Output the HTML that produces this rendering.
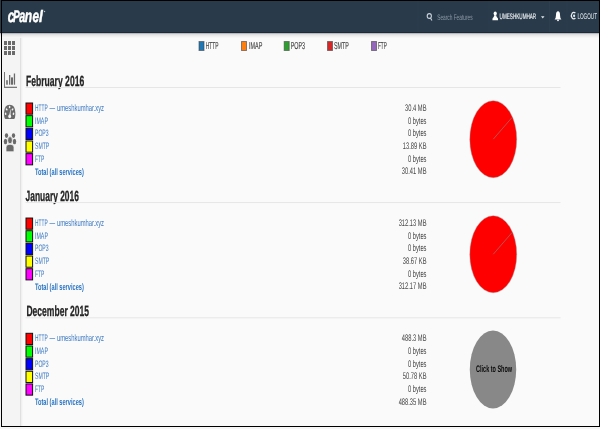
<!DOCTYPE html>
<html><head><meta charset="utf-8"><style>
html,body{margin:0;padding:0;background:#fafafa;width:600px;height:429px;overflow:hidden}
svg{display:block;font-family:"Liberation Sans", sans-serif;will-change:transform;text-rendering:geometricPrecision}
</style></head><body>
<svg width="600" height="429" viewBox="0 0 600 429">
<rect x="0" y="0" width="600" height="429" fill="#fafafa"/>
<rect x="0" y="33" width="20" height="396" fill="#f4f4f4"/>
<rect x="20" y="33" width="1" height="396" fill="#e0e0e0"/>
<rect x="21" y="33" width="1" height="396" fill="#f0f0f0"/>
<rect x="22" y="33" width="1" height="396" fill="#f6f6f6"/>
<rect x="0" y="0" width="600" height="33" fill="#293a4a"/>
<rect x="0" y="32" width="600" height="1" fill="#1d2b39"/>
<rect x="0" y="33" width="600" height="1" fill="#a9acaf" opacity="0.85"/>
<rect x="0" y="34" width="600" height="1" fill="#d9d9d9" opacity="0.85"/>
<rect x="0" y="35" width="600" height="1" fill="#e5e5e5" opacity="0.85"/>
<rect x="0" y="36" width="600" height="1" fill="#ededed" opacity="0.85"/>
<rect x="0" y="37" width="600" height="1" fill="#f4f4f4" opacity="0.85"/>
<text x="7.8" y="22.3" font-size="17.8" fill="#fff" font-weight="bold" text-anchor="start" font-style="italic" textLength="6.6" lengthAdjust="spacingAndGlyphs" stroke="#fff" stroke-width="0.5">c</text>
<text x="13.0" y="22.3" font-size="16.8" fill="#fff" font-weight="bold" text-anchor="start" font-style="italic" textLength="6.8" lengthAdjust="spacingAndGlyphs" stroke="#fff" stroke-width="0.5">P</text>
<text x="19.3" y="22.3" font-size="17.8" fill="#fff" font-weight="bold" text-anchor="start" font-style="italic" textLength="6.0" lengthAdjust="spacingAndGlyphs" stroke="#fff" stroke-width="0.5">a</text>
<text x="24.8" y="22.3" font-size="17.8" fill="#fff" font-weight="bold" text-anchor="start" font-style="italic" textLength="7.4" lengthAdjust="spacingAndGlyphs" stroke="#fff" stroke-width="0.5">n</text>
<text x="32.6" y="22.3" font-size="17.8" fill="#fff" font-weight="bold" text-anchor="start" font-style="italic" textLength="6.6" lengthAdjust="spacingAndGlyphs" stroke="#fff" stroke-width="0.5">e</text>
<text x="39.0" y="22.3" font-size="16.6" fill="#fff" font-weight="bold" text-anchor="start" font-style="italic" textLength="3.8" lengthAdjust="spacingAndGlyphs" stroke="#fff" stroke-width="0.5">l</text>
<circle cx="44.5" cy="11.6" r="0.75" fill="#b8c2cc"/>
<rect x="417.5" y="1" width="1" height="31" fill="#34475a" opacity="0.35"/>
<rect x="488.5" y="1" width="1" height="31" fill="#34475a" opacity="0.35"/>
<rect x="549" y="1" width="1" height="31" fill="#34475a" opacity="0.35"/>
<rect x="566.5" y="1" width="1" height="31" fill="#34475a" opacity="0.35"/>
<ellipse cx="429.3" cy="16" rx="2.1" ry="2.4" fill="none" stroke="#c9d1d9" stroke-width="1.1"/>
<line x1="430.5" y1="18" x2="431.9" y2="20.6" stroke="#c9d1d9" stroke-width="1.1"/>
<text x="437.2" y="19.6" font-size="8" fill="#8d99a6" font-weight="normal" text-anchor="start" font-style="normal" textLength="35.4" lengthAdjust="spacingAndGlyphs">Search Features</text>
<ellipse cx="495.2" cy="13.6" rx="1.6" ry="2" fill="#fff"/>
<path d="M494.2 15.2 L496.2 15.2 Q496.4 17.4 497.9 18.3 L498.1 20.2 L492.4 20.2 L492.6 18.3 Q494 17.4 494.2 15.2 Z" fill="#fff"/>
<text x="499.6" y="19.2" font-size="8" fill="#eef1f4" font-weight="normal" text-anchor="start" font-style="normal" textLength="36.6" lengthAdjust="spacingAndGlyphs" stroke="#eef1f4" stroke-width="0.15">UMESHKUMHAR</text>
<path d="M541 16.3 L544.5 16.3 L542.75 18.4 Z" fill="#dfe4ea"/>
<path d="M554.6 19.5 Q556 18 556 15 Q556 11.3 558 11.3 Q560 11.3 560 15 Q560 18 561.4 19.5 Z" fill="#fff"/>
<circle cx="558" cy="20.3" r="0.9" fill="#fff"/>
<path d="M575.4 13.2 A2.4 3.2 0 1 0 575.4 18" fill="none" stroke="#e8ecf0" stroke-width="1.2"/>
<ellipse cx="574.1" cy="15.7" rx="1.1" ry="1.3" fill="#dfe9f2"/>
<text x="577.4" y="18.9" font-size="8.2" fill="#eef1f4" font-weight="normal" text-anchor="start" font-style="normal" textLength="19.6" lengthAdjust="spacingAndGlyphs">LOGOUT</text>
<rect x="4" y="41" width="3" height="4" fill="#6a6a6a"/>
<rect x="8" y="41" width="3" height="4" fill="#6a6a6a"/>
<rect x="12" y="41" width="3" height="4" fill="#6a6a6a"/>
<rect x="4" y="46" width="3" height="4" fill="#6a6a6a"/>
<rect x="8" y="46" width="3" height="4" fill="#6a6a6a"/>
<rect x="12" y="46" width="3" height="4" fill="#6a6a6a"/>
<rect x="4" y="51" width="3" height="4" fill="#6a6a6a"/>
<rect x="8" y="51" width="3" height="4" fill="#6a6a6a"/>
<rect x="12" y="51" width="3" height="4" fill="#6a6a6a"/>
<rect x="4" y="72" width="1" height="16" fill="#777"/>
<rect x="4" y="86.7" width="13" height="1.3" fill="#777"/>
<rect x="6.2" y="80.2" width="1.6" height="4.5" fill="#6a6a6a"/>
<rect x="9" y="75" width="1.3" height="9.700000000000003" fill="#6a6a6a"/>
<rect x="11" y="77.4" width="2" height="7.299999999999997" fill="#6a6a6a"/>
<rect x="13.8" y="73.5" width="1.3" height="11.200000000000003" fill="#6a6a6a"/>
<path d="M5.5 119 Q4 118.5 4 113 Q4.2 104.8 9.7 104.8 Q15.2 104.8 15.4 113 Q15.4 118.5 14 119 Z" fill="#6a6a6a"/>
<ellipse cx="9.6" cy="107" rx="0.8" ry="1.2" transform="rotate(0 9.6 107)" fill="#f4f4f4"/>
<ellipse cx="6.7" cy="109.4" rx="0.8" ry="1.2" transform="rotate(-40 6.7 109.4)" fill="#f4f4f4"/>
<ellipse cx="12.5" cy="109.4" rx="0.8" ry="1.2" transform="rotate(40 12.5 109.4)" fill="#f4f4f4"/>
<ellipse cx="5.6" cy="113.8" rx="0.8" ry="1.2" transform="rotate(-10 5.6 113.8)" fill="#f4f4f4"/>
<ellipse cx="13.5" cy="113.8" rx="0.8" ry="1.2" transform="rotate(10 13.5 113.8)" fill="#f4f4f4"/>
<path d="M9 116.5 L10.4 109.6 L10.8 109.6 L10.4 116.5 Z" fill="#f4f4f4"/>
<ellipse cx="9.7" cy="116.3" rx="1.4" ry="1.9" fill="#f4f4f4"/>
<ellipse cx="6.5" cy="135.6" rx="1.7" ry="2.4" fill="#6a6a6a"/>
<ellipse cx="13.5" cy="135.6" rx="1.7" ry="2.4" fill="#6a6a6a"/>
<ellipse cx="5.5" cy="141.5" rx="1.7" ry="2.8" fill="#6a6a6a"/>
<ellipse cx="14.5" cy="141.5" rx="1.7" ry="2.8" fill="#6a6a6a"/>
<path d="M6 151.8 L6 147 Q6 144.2 10 144.2 Q14 144.2 14 147 L14 151.8 Z" fill="#6a6a6a" stroke="#f4f4f4" stroke-width="0.8"/>
<ellipse cx="10" cy="140.2" rx="2.4" ry="3.6" fill="#6a6a6a" stroke="#f4f4f4" stroke-width="0.8"/>
<rect x="199.0" y="41.5" width="5" height="9" fill="#1f77b4" stroke="#444" stroke-width="1" stroke-opacity="0.6"/>
<text x="205.75" y="48.75" font-size="10" fill="#454545" font-weight="normal" text-anchor="start" font-style="normal" textLength="12.75" lengthAdjust="spacingAndGlyphs" stroke="#454545" stroke-width="0.15">HTTP</text>
<rect x="241.5" y="41.5" width="5" height="9" fill="#ff7f0e" stroke="#444" stroke-width="1" stroke-opacity="0.6"/>
<text x="249" y="48.75" font-size="10" fill="#454545" font-weight="normal" text-anchor="start" font-style="normal" textLength="13.3" lengthAdjust="spacingAndGlyphs" stroke="#454545" stroke-width="0.15">IMAP</text>
<rect x="284.2" y="41.5" width="5" height="9" fill="#2ca02c" stroke="#444" stroke-width="1" stroke-opacity="0.6"/>
<text x="290.7" y="48.75" font-size="10" fill="#454545" font-weight="normal" text-anchor="start" font-style="normal" textLength="14.3" lengthAdjust="spacingAndGlyphs" stroke="#454545" stroke-width="0.15">POP3</text>
<rect x="327.5" y="41.5" width="5" height="9" fill="#d62728" stroke="#444" stroke-width="1" stroke-opacity="0.6"/>
<text x="334" y="48.75" font-size="10" fill="#454545" font-weight="normal" text-anchor="start" font-style="normal" textLength="14.7" lengthAdjust="spacingAndGlyphs" stroke="#454545" stroke-width="0.15">SMTP</text>
<rect x="371.5" y="41.5" width="5" height="9" fill="#9467bd" stroke="#444" stroke-width="1" stroke-opacity="0.6"/>
<text x="378" y="48.75" font-size="10" fill="#454545" font-weight="normal" text-anchor="start" font-style="normal" textLength="8.7" lengthAdjust="spacingAndGlyphs" stroke="#454545" stroke-width="0.15">FTP</text>
<text x="26" y="85.7" font-size="14.8" fill="#242424" font-weight="bold" text-anchor="start" font-style="normal" textLength="58.2" lengthAdjust="spacingAndGlyphs" stroke="#242424" stroke-width="0.3">February 2016</text>
<rect x="25.5" y="87.0" width="535" height="1" fill="#e6e6e6"/>
<rect x="26" y="103.0" width="6.6" height="11.2" fill="#ff0000" stroke="#111" stroke-width="1"/>
<text x="35" y="110.9" font-size="9.4" fill="#3a78c2" font-weight="normal" text-anchor="start" font-style="normal" textLength="12.6" lengthAdjust="spacingAndGlyphs">HTTP</text>
<text x="49.4" y="110.9" font-size="9.4" fill="#3a78c2" font-weight="normal" text-anchor="start" font-style="normal" textLength="5.6" lengthAdjust="spacingAndGlyphs">—</text>
<text x="57" y="110.9" font-size="9.4" fill="#3a78c2" font-weight="normal" text-anchor="start" font-style="normal" textLength="47" lengthAdjust="spacingAndGlyphs">umeshkumhar.xyz</text>
<rect x="26" y="115.66" width="6.6" height="11.2" fill="#00ff00" stroke="#111" stroke-width="1"/>
<text x="35" y="123.56" font-size="9.4" fill="#3a78c2" font-weight="normal" text-anchor="start" font-style="normal" textLength="12.9" lengthAdjust="spacingAndGlyphs">IMAP</text>
<rect x="26" y="128.32000000000002" width="6.6" height="11.2" fill="#0000ff" stroke="#111" stroke-width="1"/>
<text x="35" y="136.22" font-size="9.4" fill="#3a78c2" font-weight="normal" text-anchor="start" font-style="normal" textLength="13.6" lengthAdjust="spacingAndGlyphs">POP3</text>
<rect x="26" y="140.98000000000002" width="6.6" height="11.2" fill="#ffff00" stroke="#111" stroke-width="1"/>
<text x="35" y="148.88" font-size="9.4" fill="#3a78c2" font-weight="normal" text-anchor="start" font-style="normal" textLength="14.3" lengthAdjust="spacingAndGlyphs">SMTP</text>
<rect x="26" y="153.64000000000001" width="6.6" height="11.2" fill="#ff00ff" stroke="#111" stroke-width="1"/>
<text x="35" y="161.54" font-size="9.4" fill="#3a78c2" font-weight="normal" text-anchor="start" font-style="normal" textLength="9.3" lengthAdjust="spacingAndGlyphs">FTP</text>
<text x="35" y="174.6" font-size="9.4" fill="#2a74c2" font-weight="bold" text-anchor="start" font-style="normal" textLength="48.8" lengthAdjust="spacingAndGlyphs">Total (all services)</text>
<text x="405.07" y="111.0" font-size="9.6" fill="#444" font-weight="normal" text-anchor="start" font-style="normal" textLength="21.43" lengthAdjust="spacingAndGlyphs">30.4 MB</text>
<text x="407.95" y="123.66" font-size="9.6" fill="#444" font-weight="normal" text-anchor="start" font-style="normal" textLength="18.55" lengthAdjust="spacingAndGlyphs">0 bytes</text>
<text x="407.95" y="136.32000000000002" font-size="9.6" fill="#444" font-weight="normal" text-anchor="start" font-style="normal" textLength="18.55" lengthAdjust="spacingAndGlyphs">0 bytes</text>
<text x="402.83" y="148.98000000000002" font-size="9.6" fill="#444" font-weight="normal" text-anchor="start" font-style="normal" textLength="23.67" lengthAdjust="spacingAndGlyphs">13.89 KB</text>
<text x="407.95" y="161.64000000000001" font-size="9.6" fill="#444" font-weight="normal" text-anchor="start" font-style="normal" textLength="18.55" lengthAdjust="spacingAndGlyphs">0 bytes</text>
<text x="401.87" y="174.3" font-size="9.6" fill="#444" font-weight="normal" text-anchor="start" font-style="normal" textLength="24.63" lengthAdjust="spacingAndGlyphs">30.41 MB</text>
<ellipse cx="493.25" cy="139.2" rx="23.45" ry="38.5" fill="#ff0000" stroke="#999" stroke-width="0.4"/>
<line x1="493.25" y1="139.2" x2="512" y2="117.49999999999999" stroke="#888" stroke-width="0.6"/>
<text x="25.6" y="200.75" font-size="14.8" fill="#242424" font-weight="bold" text-anchor="start" font-style="normal" textLength="53.3" lengthAdjust="spacingAndGlyphs" stroke="#242424" stroke-width="0.3">January 2016</text>
<rect x="25.5" y="202.05" width="535" height="1" fill="#e6e6e6"/>
<rect x="26" y="218.05" width="6.6" height="11.2" fill="#ff0000" stroke="#111" stroke-width="1"/>
<text x="35" y="225.95" font-size="9.4" fill="#3a78c2" font-weight="normal" text-anchor="start" font-style="normal" textLength="12.6" lengthAdjust="spacingAndGlyphs">HTTP</text>
<text x="49.4" y="225.95" font-size="9.4" fill="#3a78c2" font-weight="normal" text-anchor="start" font-style="normal" textLength="5.6" lengthAdjust="spacingAndGlyphs">—</text>
<text x="57" y="225.95" font-size="9.4" fill="#3a78c2" font-weight="normal" text-anchor="start" font-style="normal" textLength="47" lengthAdjust="spacingAndGlyphs">umeshkumhar.xyz</text>
<rect x="26" y="230.71" width="6.6" height="11.2" fill="#00ff00" stroke="#111" stroke-width="1"/>
<text x="35" y="238.60999999999999" font-size="9.4" fill="#3a78c2" font-weight="normal" text-anchor="start" font-style="normal" textLength="12.9" lengthAdjust="spacingAndGlyphs">IMAP</text>
<rect x="26" y="243.37" width="6.6" height="11.2" fill="#0000ff" stroke="#111" stroke-width="1"/>
<text x="35" y="251.26999999999998" font-size="9.4" fill="#3a78c2" font-weight="normal" text-anchor="start" font-style="normal" textLength="13.6" lengthAdjust="spacingAndGlyphs">POP3</text>
<rect x="26" y="256.03000000000003" width="6.6" height="11.2" fill="#ffff00" stroke="#111" stroke-width="1"/>
<text x="35" y="263.93" font-size="9.4" fill="#3a78c2" font-weight="normal" text-anchor="start" font-style="normal" textLength="14.3" lengthAdjust="spacingAndGlyphs">SMTP</text>
<rect x="26" y="268.69" width="6.6" height="11.2" fill="#ff00ff" stroke="#111" stroke-width="1"/>
<text x="35" y="276.59" font-size="9.4" fill="#3a78c2" font-weight="normal" text-anchor="start" font-style="normal" textLength="9.3" lengthAdjust="spacingAndGlyphs">FTP</text>
<text x="35" y="289.65000000000003" font-size="9.4" fill="#2a74c2" font-weight="bold" text-anchor="start" font-style="normal" textLength="48.8" lengthAdjust="spacingAndGlyphs">Total (all services)</text>
<text x="398.67" y="226.05" font-size="9.6" fill="#444" font-weight="normal" text-anchor="start" font-style="normal" textLength="27.83" lengthAdjust="spacingAndGlyphs">312.13 MB</text>
<text x="407.95" y="238.71" font-size="9.6" fill="#444" font-weight="normal" text-anchor="start" font-style="normal" textLength="18.55" lengthAdjust="spacingAndGlyphs">0 bytes</text>
<text x="407.95" y="251.37" font-size="9.6" fill="#444" font-weight="normal" text-anchor="start" font-style="normal" textLength="18.55" lengthAdjust="spacingAndGlyphs">0 bytes</text>
<text x="402.83" y="264.03000000000003" font-size="9.6" fill="#444" font-weight="normal" text-anchor="start" font-style="normal" textLength="23.67" lengthAdjust="spacingAndGlyphs">38.67 KB</text>
<text x="407.95" y="276.69" font-size="9.6" fill="#444" font-weight="normal" text-anchor="start" font-style="normal" textLength="18.55" lengthAdjust="spacingAndGlyphs">0 bytes</text>
<text x="398.67" y="289.35" font-size="9.6" fill="#444" font-weight="normal" text-anchor="start" font-style="normal" textLength="27.83" lengthAdjust="spacingAndGlyphs">312.17 MB</text>
<ellipse cx="493.25" cy="254.25" rx="23.45" ry="38.5" fill="#ff0000" stroke="#999" stroke-width="0.4"/>
<line x1="493.25" y1="254.25" x2="512" y2="232.55" stroke="#888" stroke-width="0.6"/>
<text x="26.4" y="316" font-size="14.8" fill="#242424" font-weight="bold" text-anchor="start" font-style="normal" textLength="62.7" lengthAdjust="spacingAndGlyphs" stroke="#242424" stroke-width="0.3">December 2015</text>
<rect x="25.5" y="317.3" width="535" height="1" fill="#e6e6e6"/>
<rect x="26" y="333.3" width="6.6" height="11.2" fill="#ff0000" stroke="#111" stroke-width="1"/>
<text x="35" y="341.2" font-size="9.4" fill="#3a78c2" font-weight="normal" text-anchor="start" font-style="normal" textLength="12.6" lengthAdjust="spacingAndGlyphs">HTTP</text>
<text x="49.4" y="341.2" font-size="9.4" fill="#3a78c2" font-weight="normal" text-anchor="start" font-style="normal" textLength="5.6" lengthAdjust="spacingAndGlyphs">—</text>
<text x="57" y="341.2" font-size="9.4" fill="#3a78c2" font-weight="normal" text-anchor="start" font-style="normal" textLength="47" lengthAdjust="spacingAndGlyphs">umeshkumhar.xyz</text>
<rect x="26" y="345.96000000000004" width="6.6" height="11.2" fill="#00ff00" stroke="#111" stroke-width="1"/>
<text x="35" y="353.86" font-size="9.4" fill="#3a78c2" font-weight="normal" text-anchor="start" font-style="normal" textLength="12.9" lengthAdjust="spacingAndGlyphs">IMAP</text>
<rect x="26" y="358.62" width="6.6" height="11.2" fill="#0000ff" stroke="#111" stroke-width="1"/>
<text x="35" y="366.52" font-size="9.4" fill="#3a78c2" font-weight="normal" text-anchor="start" font-style="normal" textLength="13.6" lengthAdjust="spacingAndGlyphs">POP3</text>
<rect x="26" y="371.28000000000003" width="6.6" height="11.2" fill="#ffff00" stroke="#111" stroke-width="1"/>
<text x="35" y="379.18" font-size="9.4" fill="#3a78c2" font-weight="normal" text-anchor="start" font-style="normal" textLength="14.3" lengthAdjust="spacingAndGlyphs">SMTP</text>
<rect x="26" y="383.94" width="6.6" height="11.2" fill="#ff00ff" stroke="#111" stroke-width="1"/>
<text x="35" y="391.84" font-size="9.4" fill="#3a78c2" font-weight="normal" text-anchor="start" font-style="normal" textLength="9.3" lengthAdjust="spacingAndGlyphs">FTP</text>
<text x="35" y="404.90000000000003" font-size="9.4" fill="#2a74c2" font-weight="bold" text-anchor="start" font-style="normal" textLength="48.8" lengthAdjust="spacingAndGlyphs">Total (all services)</text>
<text x="401.87" y="341.3" font-size="9.6" fill="#444" font-weight="normal" text-anchor="start" font-style="normal" textLength="24.63" lengthAdjust="spacingAndGlyphs">488.3 MB</text>
<text x="407.95" y="353.96000000000004" font-size="9.6" fill="#444" font-weight="normal" text-anchor="start" font-style="normal" textLength="18.55" lengthAdjust="spacingAndGlyphs">0 bytes</text>
<text x="407.95" y="366.62" font-size="9.6" fill="#444" font-weight="normal" text-anchor="start" font-style="normal" textLength="18.55" lengthAdjust="spacingAndGlyphs">0 bytes</text>
<text x="402.83" y="379.28000000000003" font-size="9.6" fill="#444" font-weight="normal" text-anchor="start" font-style="normal" textLength="23.67" lengthAdjust="spacingAndGlyphs">50.78 KB</text>
<text x="407.95" y="391.94" font-size="9.6" fill="#444" font-weight="normal" text-anchor="start" font-style="normal" textLength="18.55" lengthAdjust="spacingAndGlyphs">0 bytes</text>
<text x="398.67" y="404.6" font-size="9.6" fill="#444" font-weight="normal" text-anchor="start" font-style="normal" textLength="27.83" lengthAdjust="spacingAndGlyphs">488.35 MB</text>
<ellipse cx="493" cy="369.5" rx="23.2" ry="39" fill="#888888"/>
<text x="476.1" y="372.4" font-size="9.6" fill="#0a0a0a" font-weight="bold" text-anchor="start" font-style="normal" textLength="36" lengthAdjust="spacingAndGlyphs">Click to Show</text>
<rect x="1.5" y="0.5" width="598" height="426" fill="none" stroke="#000" stroke-width="1"/>
<rect x="0" y="427" width="600" height="2" fill="#f6f6f6"/>
</svg>
</body></html>
